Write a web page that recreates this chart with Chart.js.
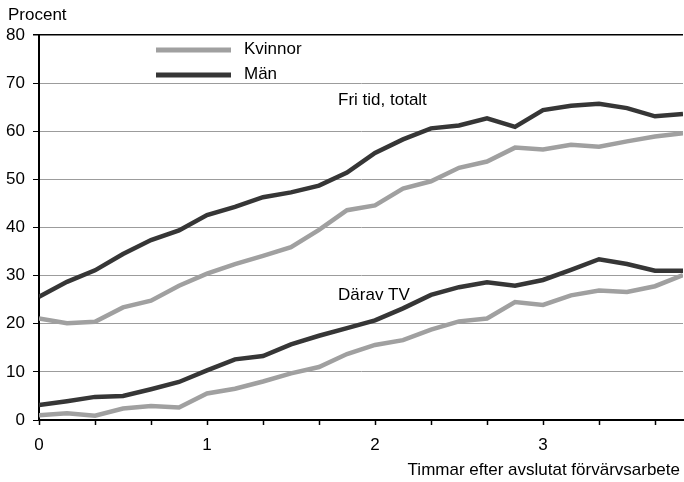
<!DOCTYPE html>
<html lang="sv">
<head>
<meta charset="utf-8">
<title>Fri tid efter avslutat förvärvsarbete</title>
<script src="https://cdn.jsdelivr.net/npm/chart.js@4/dist/chart.umd.min.js"></script>
<style>
  html, body { margin: 0; padding: 0; background: #ffffff; }
  #wrap { width: 684px; height: 482px; }
</style>
</head>
<body>
<div id="wrap"><canvas id="chart" width="684" height="482"></canvas></div>
<script>
// Minutes after the end of paid work (one observation every 10 minutes)
const minutes = [0, 10, 20, 30, 40, 50, 60, 70, 80, 90, 100, 110,
                 120, 130, 140, 150, 160, 170, 180, 190, 200, 210, 220, 230];

// Share (%) with free time, total
const kvinnorTotal = [21.1, 20.1, 20.4, 23.4, 24.8, 27.9, 30.4, 32.4, 34.1, 35.9, 39.5, 43.6,
                      44.6, 48.1, 49.6, 52.4, 53.7, 56.6, 56.2, 57.2, 56.8, 57.9, 58.9, 59.6];
const manTotal     = [25.6, 28.7, 31.1, 34.5, 37.4, 39.4, 42.6, 44.3, 46.3, 47.3, 48.7, 51.4,
                      55.5, 58.3, 60.6, 61.2, 62.7, 60.9, 64.4, 65.3, 65.7, 64.8, 63.1, 63.6];

// Share (%) of which watching TV
const kvinnorTV    = [1.0, 1.4, 0.9, 2.4, 2.9, 2.6, 5.5, 6.5, 8.0, 9.7, 11.0, 13.7,
                      15.6, 16.6, 18.8, 20.5, 21.1, 24.5, 23.9, 25.9, 26.9, 26.6, 27.8, 30.1];
const manTV        = [3.1, 3.9, 4.8, 5.0, 6.4, 7.9, 10.3, 12.6, 13.3, 15.7, 17.5, 19.1,
                      20.7, 23.2, 26.0, 27.6, 28.6, 27.9, 29.1, 31.2, 33.4, 32.4, 31.0, 31.0];

// Axis ticks
const yTickValues = [0, 10, 20, 30, 40, 50, 60, 70, 80];
const xTickMinutes = [0, 20, 40, 60, 80, 100, 120, 140, 160, 180, 200, 220];
const xTickLabels = { 0: '0', 60: '1', 120: '2', 180: '3' };

const seriesNames = ['Kvinnor', 'Män'];
const seriesColors = ['#a0a0a0', '#363636'];

const FONT = 'Arial, "Liberation Sans", Helvetica, sans-serif';

const points = vals => vals.map((v, i) => ({ x: minutes[i] / 60, y: v }));

const lineStyle = color => ({
  borderColor: color,
  backgroundColor: color,
  borderWidth: 4.5,
  pointRadius: 0,
  tension: 0,
  fill: false,
  borderJoinStyle: 'miter',
  borderCapStyle: 'butt'
});

// Free text: y-axis unit, x-axis title, curve captions and the legend
const textPlugin = {
  id: 'texts',
  afterDatasetsDraw(chart) {
    const { ctx, chartArea, scales } = chart;
    ctx.save();
    ctx.fillStyle = '#000';
    ctx.font = '17px ' + FONT;
    ctx.textBaseline = 'alphabetic';

    ctx.textAlign = 'left';
    ctx.fillText('Procent', 8, 20);

    ctx.textAlign = 'right';
    ctx.fillText('Timmar efter avslutat förvärvsarbete', 680, 475);

    ctx.textAlign = 'left';
    ctx.textBaseline = 'middle';
    ctx.fillText('Fri tid, totalt', scales.x.getPixelForValue(1.78), scales.y.getPixelForValue(66.5));
    ctx.fillText('Därav TV', scales.x.getPixelForValue(1.78), scales.y.getPixelForValue(26.0));

    // legend
    const rows = [50, 75];
    seriesNames.forEach((name, i) => {
      ctx.strokeStyle = seriesColors[i];
      ctx.lineWidth = 5;
      ctx.lineCap = 'butt';
      ctx.beginPath();
      ctx.moveTo(chartArea.left + 117, rows[i]);
      ctx.lineTo(chartArea.left + 192, rows[i]);
      ctx.stroke();
      ctx.fillStyle = '#000';
      ctx.fillText(name, chartArea.left + 205, rows[i] - 1);
    });
    ctx.restore();
  }
};

new Chart(document.getElementById('chart'), {
  type: 'line',
  data: {
    datasets: [
      { label: seriesNames[0] + ' totalt', data: points(kvinnorTotal), ...lineStyle(seriesColors[0]) },
      { label: seriesNames[1] + ' totalt', data: points(manTotal), ...lineStyle(seriesColors[1]) },
      { label: seriesNames[0] + ' TV', data: points(kvinnorTV), ...lineStyle(seriesColors[0]) },
      { label: seriesNames[1] + ' TV', data: points(manTV), ...lineStyle(seriesColors[1]) }
    ]
  },
  options: {
    responsive: false,
    animation: false,
    devicePixelRatio: 1,
    layout: { padding: { top: 35, right: 1, left: 0, bottom: 0 } },
    plugins: {
      legend: { display: false },
      tooltip: { enabled: false }
    },
    scales: {
      x: {
        type: 'linear',
        min: 0,
        max: minutes[minutes.length - 1] / 60,
        afterBuildTicks(scale) {
          scale.ticks = xTickMinutes.map(m => ({ value: m / 60 }));
        },
        afterFit(scale) { scale.height = 62; },
        ticks: {
          autoSkip: false,
          maxRotation: 0,
          padding: 10,
          color: '#000',
          font: { size: 17, family: FONT },
          callback(value) {
            const m = Math.round(value * 60);
            return xTickLabels[m] !== undefined ? xTickLabels[m] : '';
          }
        },
        grid: {
          drawOnChartArea: false,
          drawTicks: true,
          tickLength: 5,
          tickColor: '#000',
          tickWidth: 1.5
        },
        border: { display: true, color: '#000', width: 2 }
      },
      y: {
        type: 'linear',
        min: 0,
        max: 80,
        afterBuildTicks(scale) {
          scale.ticks = yTickValues.map(v => ({ value: v }));
        },
        afterFit(scale) { scale.width = 39; },
        ticks: {
          padding: 8,
          color: '#000',
          font: { size: 17, family: FONT }
        },
        grid: {
          drawOnChartArea: true,
          drawTicks: true,
          tickLength: 6,
          tickColor: '#000',
          color: ctx => (ctx.tick && ctx.tick.value === 80) ? '#000000' : '#9c9c9c',
          lineWidth: ctx => (ctx.tick && ctx.tick.value === 80) ? 1.5 : 1
        },
        border: { display: true, color: '#000', width: 2 }
      }
    }
  },
  plugins: [textPlugin]
});
</script>
</body>
</html>
